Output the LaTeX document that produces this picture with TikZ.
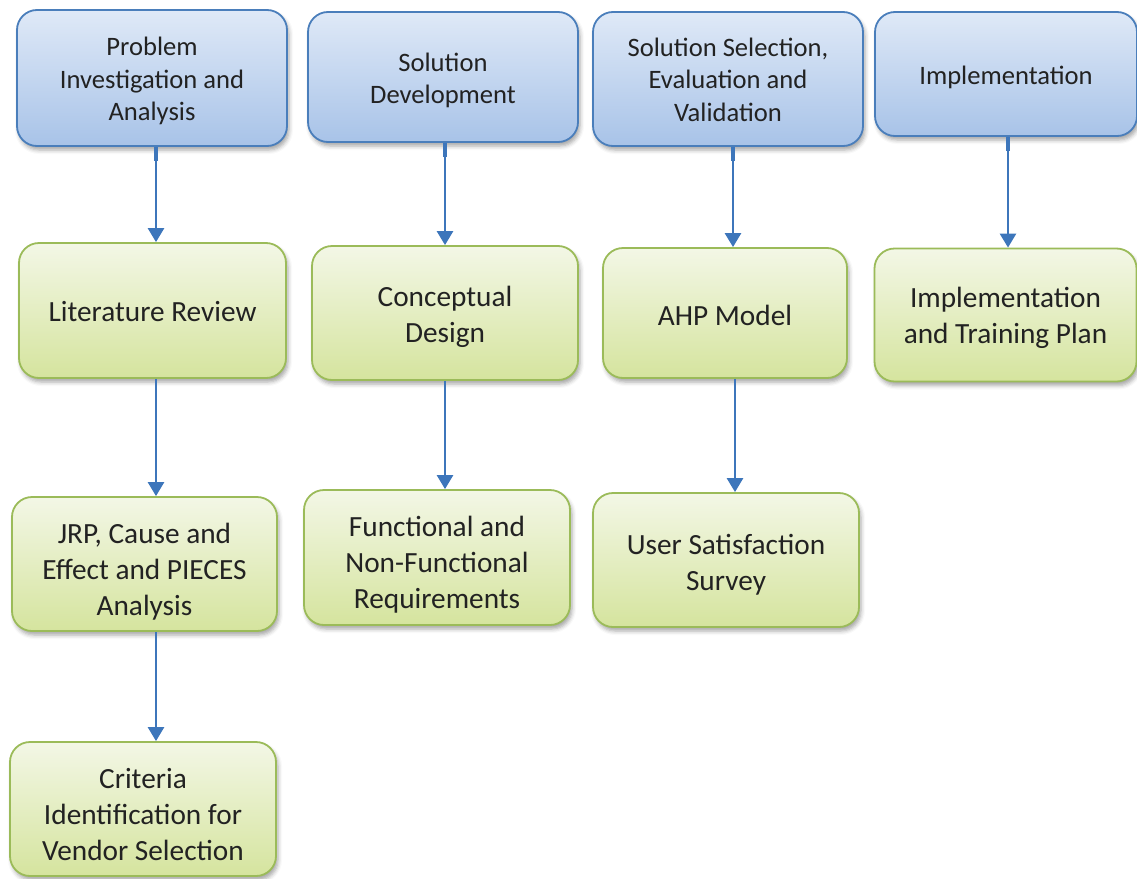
\documentclass[tikz,border=0pt]{standalone}
\usepackage{fontspec}
\setmainfont{Carlito}
\usetikzlibrary{shadows.blur,arrows.meta}
\definecolor{phaseTop}{HTML}{DFE9F7}
\definecolor{phaseBot}{HTML}{A8C3E8}
\definecolor{phaseLine}{HTML}{4A7EBB}
\definecolor{taskTop}{HTML}{F3F7E6}
\definecolor{taskBot}{HTML}{D5E49E}
\definecolor{taskLine}{HTML}{9BBB59}
\definecolor{arrowBlue}{HTML}{3D76BB}
\definecolor{ink}{HTML}{222222}
% centred lines of box text, lowered by the optional amount
\newcommand\boxtext[2][0pt]{\raisebox{-#1}[\height][\depth]{\begin{tabular}{@{}c@{}}#2\end{tabular}}}
\tikzset{
  boxbase/.style={rounded corners=20pt, line width=1.8pt, text=ink, inner sep=0pt,
    blur shadow={shadow xshift=2pt, shadow yshift=-4pt, shadow blur radius=4pt, shadow opacity=35}},
  phase/.style={boxbase, draw=phaseLine, top color=phaseTop, bottom color=phaseBot,
    font=\fontsize{26.6}{32.5}\selectfont},
  task/.style={boxbase, draw=taskLine, top color=taskTop, bottom color=taskBot,
    font=\fontsize{29.3}{36}\selectfont},
  flow/.style={draw=arrowBlue, line width=2.6pt, -{Triangle[width=16pt,length=14pt]}},
  stub/.style={draw=arrowBlue, line width=4.2pt}
}
\begin{document}
\begin{tikzpicture}[x=1pt,y=-1pt]
\useasboundingbox (0,0) rectangle (1137,878);
% phase headers
\node[phase, minimum width=270pt, minimum height=136pt] (B1) at (152,78) {\boxtext[3.5pt]{Problem\\Investigation and\\Analysis}};
\node[phase, minimum width=270pt, minimum height=130pt] (B2) at (443,77) {\boxtext[4pt]{Solution\\Development}};
\node[phase, minimum width=270pt, minimum height=134pt] (B3) at (728,79) {\boxtext[3pt]{Solution Selection,\\Evaluation and\\Validation}};
\node[phase, minimum width=262pt, minimum height=124pt] (B4) at (1006,74) {\boxtext[3.5pt]{Implementation}};
% activities
\node[task, minimum width=267pt, minimum height=135pt] (G1) at (152.5,310.5) {\boxtext[4pt]{Literature Review}};
\node[task, minimum width=266pt, minimum height=134pt] (G2) at (445,313) {\boxtext[4pt]{Conceptual\\Design}};
\node[task, minimum width=244pt, minimum height=130pt] (G3) at (725,313) {\boxtext[5pt]{AHP Model}};
\node[task, minimum width=262pt, minimum height=133pt] (G4) at (1005.5,315) {\boxtext[3.5pt]{Implementation\\and Training Plan}};
\node[task, minimum width=265pt, minimum height=134pt] (G5) at (144.5,564) {\boxtext[8pt]{JRP, Cause and\\Effect and PIECES\\Analysis}};
\node[task, minimum width=266pt, minimum height=135pt] (G6) at (437,557.5) {\boxtext[8pt]{Functional and\\Non-Functional\\Requirements}};
\node[task, minimum width=266pt, minimum height=134pt] (G7) at (726,560) {\boxtext[5pt]{User Satisfaction\\Survey}};
\node[task, minimum width=266pt, minimum height=134pt] (G8) at (143,809) {\boxtext[8pt]{Criteria\\Identification for\\Vendor Selection}};
% connector lanes
\coordinate (c1) at (156,0);
\coordinate (c2) at (445,0);
\coordinate (c3) at (733,0);
\coordinate (c3b) at (735,0);
\coordinate (c4) at (1008,0);
% thick stubs where the connectors leave the phase headers
\draw[stub] (B1.south -| c1) -- ++(0,14);
\draw[stub] (B2.south -| c2) -- ++(0,14);
\draw[stub] (B3.south -| c3) -- ++(0,14);
\draw[stub] (B4.south -| c4) -- ++(0,14);
\draw[flow] (B1.south -| c1) -- (G1.north -| c1);
\draw[flow] (G1.south -| c1) -- (G5.north -| c1);
\draw[flow] (G5.south -| c1) -- (G8.north -| c1);
\draw[flow] (B2.south -| c2) -- (G2.north -| c2);
\draw[flow] (G2.south -| c2) -- (G6.north -| c2);
\draw[flow] (B3.south -| c3) -- (G3.north -| c3);
\draw[flow] (G3.south -| c3b) -- (G7.north -| c3b);
\draw[flow] (B4.south -| c4) -- (G4.north -| c4);
\end{tikzpicture}
\end{document}
